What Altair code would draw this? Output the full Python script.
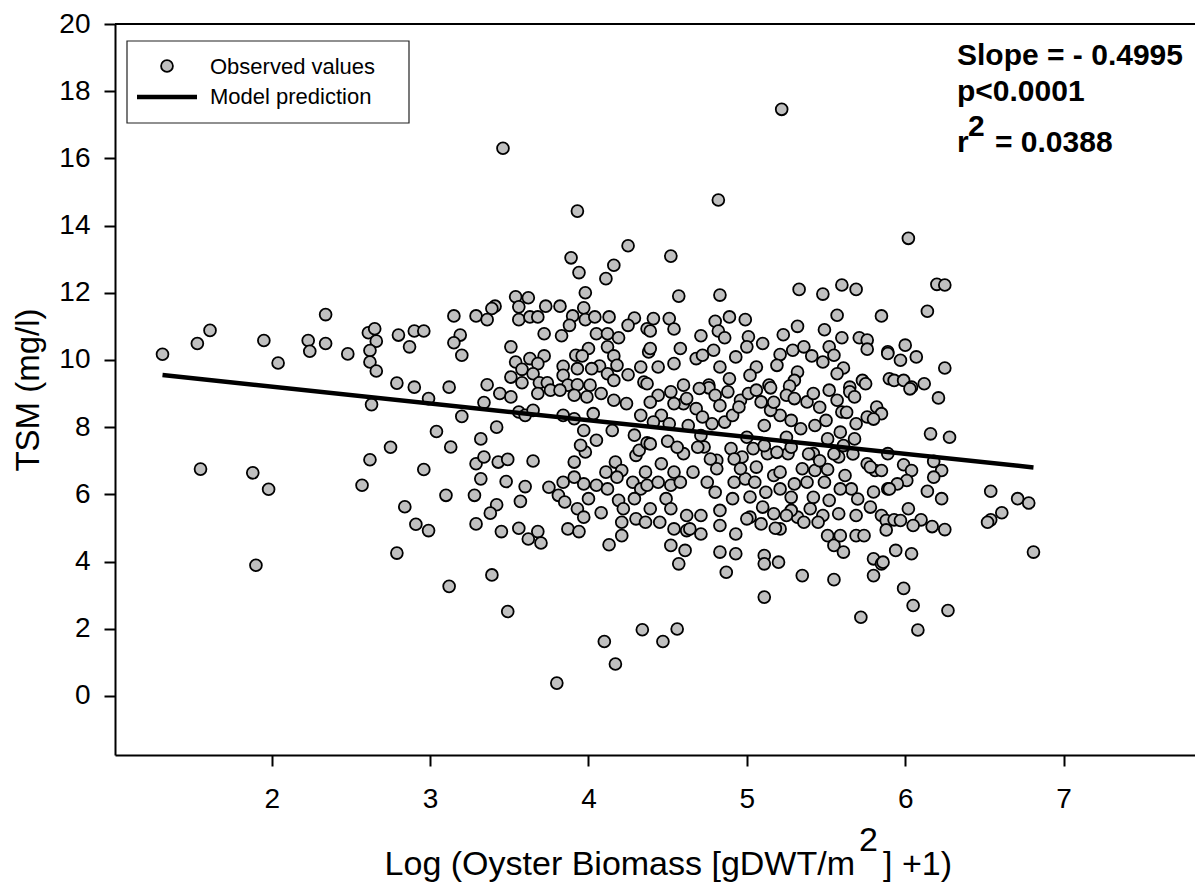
import altair as alt
import pandas as pd

# ---------------- data ----------------
obs_left = [(1.31,10.17),(1.53,10.49),(1.61,10.88),(1.95,10.58),(2.04,9.91),(2.23,10.58),(2.24,10.26),
            (2.34,11.35),(2.34,10.49),(2.48,10.18),(2.61,10.81),(2.65,10.93),(2.66,10.56),(2.62,10.28),
            (2.62,9.94),(2.66,9.67),(2.80,10.74),(2.90,10.86),(2.87,10.39),(2.79,9.31),(2.90,9.19),
            (2.63,8.67),(2.75,7.40),(2.62,7.03),(2.57,6.27),(1.55,6.75),(1.88,6.64),(1.98,6.15),
            (2.84,5.63),(2.91,5.11),(2.79,4.25),(1.90,3.89),(2.96,10.86),(2.99,8.85),(2.96,6.74),(2.99,4.92)]

obs_mid_upper = [(3.46,16.30),(3.93,14.43),(4.25,13.40),(3.89,13.04),(3.94,12.60),(4.16,12.82),(4.11,12.42),
                 (3.98,12.00),(3.54,11.88),(3.62,11.85),(3.41,11.60),(3.39,11.53),(3.56,11.58),(3.73,11.60),
                 (3.82,11.60),(3.97,11.55),(3.15,11.31),(3.29,11.31),(3.36,11.20),(3.56,11.20),(3.63,11.28),
                 (3.68,11.28),(3.90,11.31),(3.98,11.20),(4.04,11.28),(4.13,11.28),(4.29,11.25),(4.25,11.03),
                 (3.88,11.03),(3.19,10.74),(3.15,10.51),(3.20,10.14),(3.72,10.78),(3.83,10.72),(4.05,10.78),
                 (4.12,10.78),(4.19,10.66),(4.37,10.93),(3.51,10.39),(4.00,10.34),(4.12,10.39),(3.54,9.94),
                 (3.63,10.04),(3.72,10.12),(3.68,9.89),(3.92,10.14),(3.96,10.12),(4.16,10.12),(4.18,9.84),
                 (4.33,9.79),(4.38,10.24),(3.84,9.81),(4.07,9.82),(3.51,9.49),(3.58,9.72),(3.65,9.59),
                 (3.84,9.54),(3.93,9.74),(4.02,9.74),(4.12,9.59),(4.25,9.56),(3.12,9.19),(3.36,9.26),
                 (3.58,9.32),(3.69,9.32),(3.74,9.32),(3.87,9.25),(3.93,9.26),(4.01,9.25),(4.16,9.39),(4.35,9.34)]

obs_mid_lower = [(3.20,8.32),(3.34,8.73),(3.44,9.00),(3.51,8.90),(3.56,8.45),(3.60,8.35),(3.65,8.50),
                 (3.68,9.00),(3.76,9.10),(3.82,9.10),(3.91,8.95),(3.99,8.90),(4.08,9.00),(4.16,8.80),
                 (4.24,8.70),(4.33,8.35),(3.84,8.35),(3.91,8.25),(4.03,8.40),(3.97,7.90),(4.05,7.61),
                 (4.15,7.90),(4.29,7.76),(3.04,7.87),(3.13,7.41),(3.42,8.00),(3.32,7.65),(3.29,6.91),
                 (3.34,7.11),(3.43,6.96),(3.49,7.04),(3.65,6.99),(3.32,6.46),(3.48,6.38),(3.60,6.23),
                 (3.57,5.79),(3.75,6.21),(3.10,5.97),(3.28,5.97),(3.42,5.69),(3.38,5.44),(3.29,5.12),
                 (3.45,4.89),(3.56,4.99),(3.62,4.67),(3.68,4.89),(3.70,4.55),(3.84,6.36),(3.81,5.97),
                 (3.85,5.77),(3.93,5.57),(3.97,5.32),(4.00,5.87),(4.08,5.45),(3.87,4.97),(3.94,4.89),
                 (3.91,6.96),(3.97,6.31),(3.91,6.51),(3.98,7.26),(3.95,7.46),(4.05,6.27),(4.12,6.16),
                 (4.11,6.66),(4.17,6.96),(4.21,6.71),(4.18,6.51),(4.28,6.36),(4.33,6.16),(4.30,7.16),
                 (4.32,7.31),(4.19,5.82),(4.22,5.57),(4.29,5.87),(4.30,5.27),(4.36,5.17),(4.21,5.17),
                 (4.21,4.77),(4.13,4.50),(3.39,3.60),(3.12,3.26),(3.49,2.51),(4.10,1.62),(4.17,0.95),
                 (4.34,1.97),(3.80,0.38)]

obs_right_upper = [(5.22,17.46),(4.82,14.76),(4.52,13.09),(4.57,11.90),(4.83,11.93),(5.33,12.10),(5.48,11.96),
                   (5.60,12.23),(5.69,12.10),(5.85,11.31),(5.57,11.33),(4.41,11.23),(4.51,11.23),(4.39,10.86),
                   (4.54,10.92),(4.71,10.72),(4.80,11.15),(4.89,11.28),(4.99,11.20),(4.82,10.86),(4.86,10.66),
                   (5.01,10.69),(5.10,10.49),(5.23,10.75),(5.32,11.00),(5.49,10.90),(5.60,10.66),(5.71,10.66),
                   (5.76,10.59),(5.76,10.32),(5.89,10.24),(4.39,10.34),(4.58,10.34),(4.79,10.29),(4.93,10.09),
                   (5.00,10.39),(5.21,10.16),(5.29,10.29),(5.36,10.39),(5.41,10.12),(5.52,10.39),(5.55,10.14),
                   (4.44,9.79),(4.54,9.89),(4.68,10.04),(4.72,10.14),(4.83,9.79),(5.06,9.79),(5.19,9.84),
                   (5.32,9.64),(5.48,9.94),(5.61,9.76),(5.57,9.59),(5.73,9.39),(5.75,9.29),(5.90,9.44),
                   (4.37,9.29),(4.60,9.25),(4.76,9.25),(4.89,9.44),(5.02,9.54),(5.14,9.25),(5.30,9.39),(5.65,9.19)]

obs_right_lower = [(4.76,9.17),(5.15,9.17),(5.27,9.22),(5.65,9.05),(4.44,8.95),(4.60,8.70),(4.68,8.55),
                   (4.54,8.70),(4.46,8.35),(4.51,8.10),(4.63,8.05),(4.78,8.10),(4.86,8.15),(4.91,8.35),
                   (4.96,8.80),(5.01,9.00),(5.09,8.75),(5.11,8.05),(5.21,8.35),(5.25,8.95),(5.34,7.95),
                   (5.38,8.75),(5.43,8.05),(5.50,8.20),(5.57,8.80),(5.59,7.85),(5.69,8.10),(5.76,8.30),
                   (5.68,7.65),(4.37,7.53),(4.50,7.58),(4.60,7.21),(4.73,7.41),(4.81,7.01),(4.90,7.36),
                   (4.97,7.11),(5.04,7.36),(5.13,7.21),(5.26,7.21),(5.42,7.21),(5.58,7.11),(5.76,6.91),
                   (5.81,6.71),(4.36,6.66),(4.46,6.91),(4.54,6.66),(4.66,6.66),(4.81,6.76),(4.92,6.36),
                   (4.99,6.46),(5.06,6.81),(5.17,6.56),(5.21,6.66),(5.35,6.76),(5.43,6.71),(5.51,6.74),
                   (5.62,6.56),(5.30,6.31),(5.38,6.36),(5.49,6.36),(5.66,6.16),(5.80,6.07),(5.89,6.16),
                   (4.37,6.27),(4.52,6.27),(4.49,5.87),(4.39,5.57),(4.52,5.57),(4.62,5.37),(4.71,5.37),
                   (4.83,5.52),(4.91,5.87),(5.02,5.92),(5.10,5.62),(5.02,5.32),(5.09,5.12),(5.17,5.42),
                   (5.21,4.97),(5.32,5.32),(5.28,5.52),(5.40,5.57),(5.48,5.37),(5.52,5.82),(5.45,5.17),
                   (5.58,5.42),(5.69,5.37),(5.78,5.62),(5.85,5.37),(4.54,4.97),(4.62,4.92),(4.71,4.82),
                   (4.83,5.07),(4.93,4.82),(5.18,4.99),(4.52,4.48),(4.61,4.33),(4.57,3.93),(4.83,4.28),
                   (4.93,4.23),(4.87,3.68),(5.11,4.18),(5.11,3.93),(5.20,3.98),(5.51,4.77),(5.55,4.48),
                   (5.61,4.28),(5.69,4.77),(5.74,4.77),(5.80,4.08),(5.85,3.93),(5.80,3.58),(5.35,3.58),
                   (5.55,3.46),(5.11,2.94),(5.72,2.34),(4.56,1.99),(4.47,1.62),
                   (4.52,9.05),(4.70,9.15),(4.80,8.95),(4.88,9.05),(5.06,9.10),(5.30,8.85),(5.42,9.00),
                   (5.52,9.10),(5.68,8.90),(5.82,8.60),(4.62,8.85),(4.95,8.60),(5.15,8.50),(5.60,8.45),
                   (4.72,8.30),(5.28,8.20),(5.85,8.40)]

obs_core_extra = [(4.41,8.15),(4.39,7.50),(4.56,7.40),(4.69,7.40),(4.77,7.05),(4.92,7.05),(4.96,6.76),
                  (5.11,7.45),(5.19,7.25),(5.28,7.40),(5.39,7.20),(5.46,7.00),(5.55,7.20),(5.61,7.45),
                  (5.67,7.20),(5.78,6.81),(4.44,6.36),(4.58,6.36),(4.75,6.36),(4.80,6.06),(5.05,6.36),
                  (5.12,6.06),(5.21,6.16),(5.28,5.91),(5.42,5.91),(5.59,6.16),(5.70,5.86),(4.45,5.17),
                  (4.64,4.97),(5.00,5.27),(5.25,5.37),(5.36,5.17),(5.59,4.77),(4.39,8.74),(4.83,8.64),
                  (5.17,8.74),(5.46,8.59),(5.63,8.44),(5.80,8.24),(4.71,7.75),(5.00,7.70),(5.25,7.70),
                  (5.51,7.65)]

obs_far_right = [(6.02,13.62),(6.20,12.25),(6.25,12.23),(6.14,11.45),(6.00,10.44),(5.89,10.19),(5.97,9.99),
                 (6.07,10.09),(6.25,9.76),(5.93,9.39),(5.99,9.39),(6.04,9.19),(6.12,9.29),(6.03,9.14),
                 (6.21,8.87),(6.16,7.80),(6.28,7.70),(5.89,7.21),(6.18,6.98),(5.99,6.88),(6.04,6.71),
                 (6.23,6.71),(5.85,6.71),(6.18,6.51),(6.01,6.41),(5.95,6.31),(5.90,6.16),(6.14,6.09),
                 (6.23,5.87),(6.54,6.09),(6.71,5.87),(6.78,5.74),(6.61,5.45),(6.54,5.24),(6.52,5.17),
                 (6.02,5.57),(5.88,5.22),(5.93,5.24),(5.97,5.22),(6.10,5.24),(6.05,5.07),(6.17,5.04),
                 (6.25,4.95),(5.88,4.94),(6.81,4.28),(5.94,4.33),(6.04,4.23),(5.86,3.98),(5.99,3.20),
                 (6.05,2.69),(6.27,2.54),(6.08,1.96)]

model_x = [1.31, 6.81]
model_y = [9.55, 6.80]

x_ticks = [2, 3, 4, 5, 6, 7]
y_ticks = [0, 2, 4, 6, 8, 10, 12, 14, 16, 18, 20]

# ---------------- tables ----------------
all_obs = (obs_left + obs_mid_upper + obs_mid_lower + obs_right_upper + obs_right_lower
           + obs_core_extra + obs_far_right)
obs_df = pd.DataFrame(all_obs, columns=["biomass", "tsm"])
model_df = pd.DataFrame({"biomass": model_x, "tsm": model_y})
one = pd.DataFrame({"k": [0]})

FONT = "Liberation Sans"
W, H = 1080, 731

xscale = alt.Scale(domain=[1.01, 7.83], nice=False, zero=False)
yscale = alt.Scale(domain=[-1.76, 20], nice=False, zero=False)

xaxis = alt.Axis(values=x_ticks, title=None, grid=False, labelFontSize=28, labelPadding=19,
                 format="d")
yaxis = alt.Axis(values=y_ticks, title="TSM (mg/l)", grid=False, labelFontSize=28, labelPadding=14,
                 titleFontSize=33, titleFontWeight="normal", titlePadding=13, format="d")

points = alt.Chart(obs_df).mark_circle(
    size=140, fill="#c0c0c0", stroke="black", strokeWidth=1.8, opacity=1
).encode(
    x=alt.X("biomass:Q", scale=xscale, axis=xaxis),
    y=alt.Y("tsm:Q", scale=yscale, axis=yaxis),
)

model = alt.Chart(model_df).mark_line(color="black", strokeWidth=4.5).encode(
    x="biomass:Q", y="tsm:Q"
)

top_border = alt.Chart(one).mark_rule(color="black", strokeWidth=2).encode(
    x=alt.value(0), x2=alt.value(W), y=alt.value(0)
)

legend_box = alt.Chart(one).mark_rect(fill="white", stroke="#222222", strokeWidth=1.2).encode(
    x=alt.value(12), x2=alt.value(294), y=alt.value(17), y2=alt.value(99)
)
legend_pt = alt.Chart(one).mark_circle(
    size=140, fill="#c0c0c0", stroke="black", strokeWidth=1.8, opacity=1
).encode(x=alt.value(52), y=alt.value(42))
legend_line = alt.Chart(one).mark_rule(color="black", strokeWidth=4.5).encode(
    x=alt.value(22), x2=alt.value(82), y=alt.value(73)
)


def txt(s, x, y, size, weight="normal", align="left"):
    return alt.Chart(one).mark_text(
        text=s, font=FONT, fontSize=size, fontWeight=weight, align=align,
        baseline="alphabetic", color="black"
    ).encode(x=alt.value(x), y=alt.value(y))


legend_t1 = txt("Observed values", 95, 50, 22)
legend_t2 = txt("Model prediction", 95, 80, 22)

ann1 = txt("Slope = - 0.4995", 842, 41, 30, "bold")
ann2 = txt("p<0.0001", 842, 77, 30, "bold")
ann3a = txt("r", 842, 128, 30, "bold")
ann3b = txt("2", 853, 112, 30, "bold")
ann3c = txt("= 0.0388", 880, 128, 30, "bold")

xt1 = txt("Log (Oyster Biomass [gDWT/m", 740, 851, 34, align="right")
xt2 = txt("2", 744, 827, 34)
xt3 = txt("] +1)", 768, 851, 34)

chart = alt.layer(
    points, model, top_border, legend_box, legend_pt, legend_line, legend_t1, legend_t2,
    ann1, ann2, ann3a, ann3b, ann3c, xt1, xt2, xt3
).properties(
    width=W, height=H,
    autosize=alt.AutoSizeParams(type="none"),
    padding={"left": 107, "top": 16, "right": 0, "bottom": 127},
).configure_view(
    stroke=None
).configure_axis(
    domainColor="black", domainWidth=2, tickColor="black", tickWidth=2, tickSize=11,
    labelColor="black", titleColor="black", labelFont=FONT, titleFont=FONT
)

chart.save("out.html", embed_options={"renderer": "svg", "actions": False})
